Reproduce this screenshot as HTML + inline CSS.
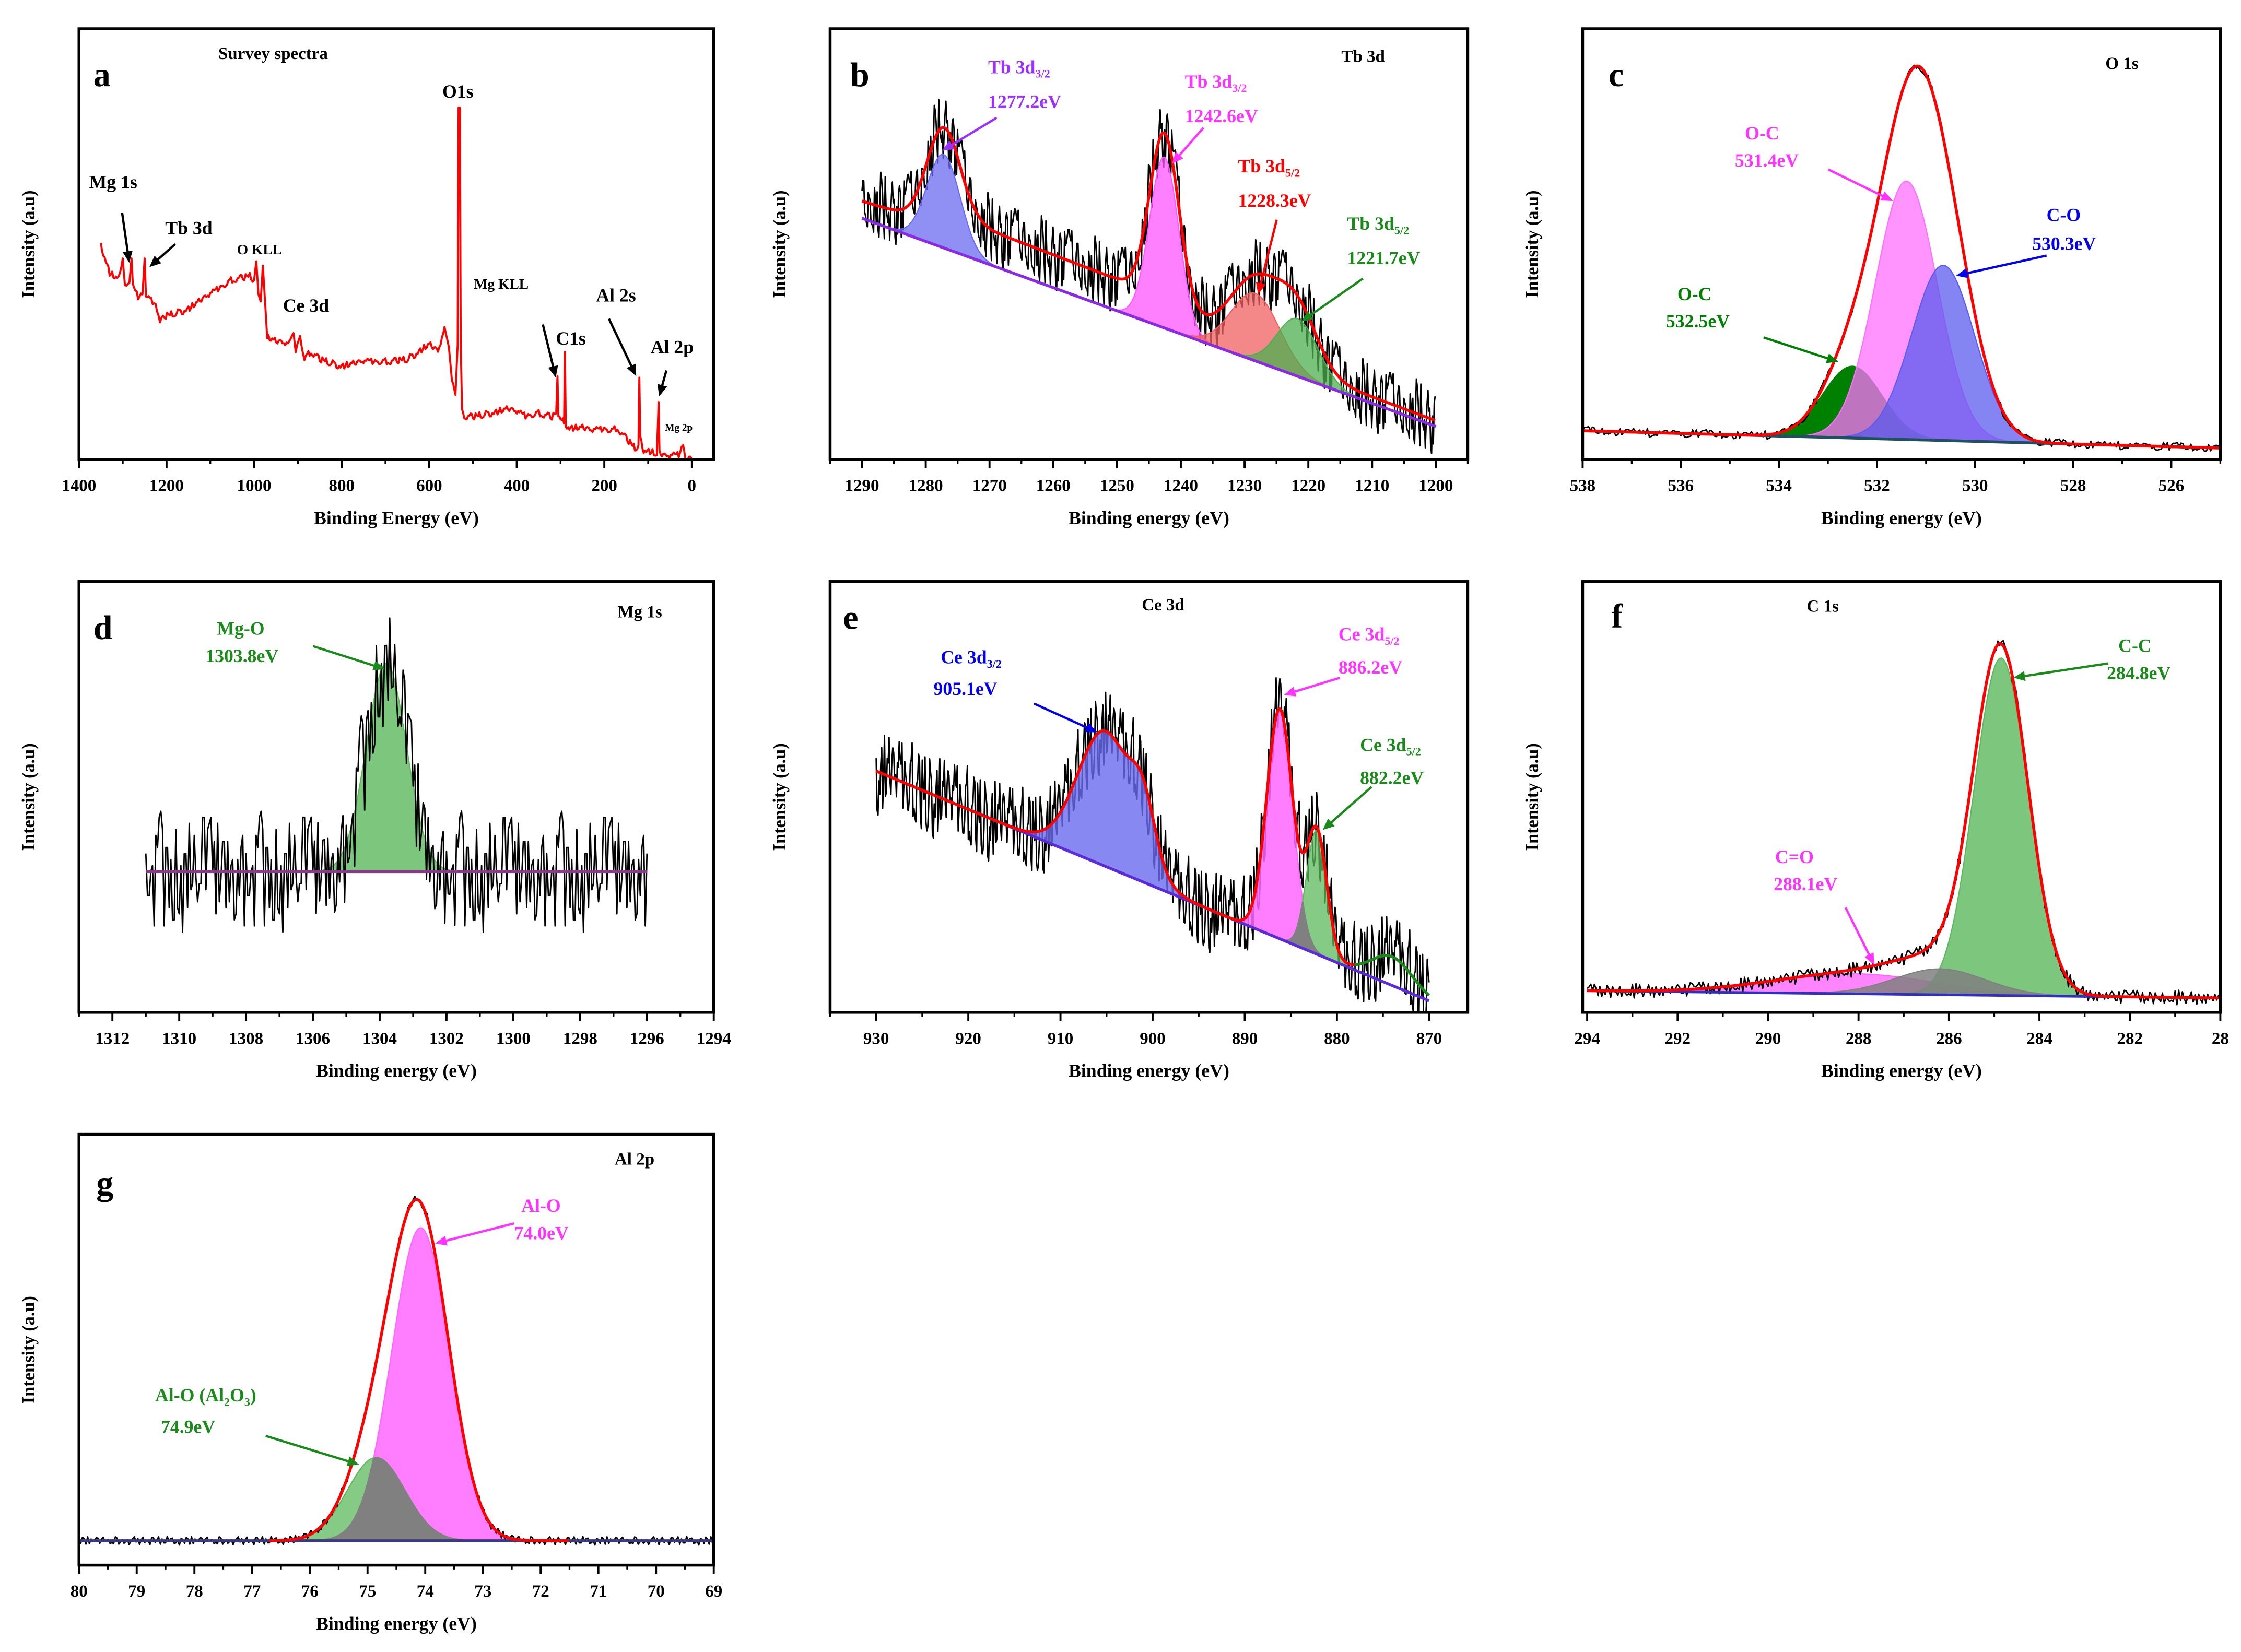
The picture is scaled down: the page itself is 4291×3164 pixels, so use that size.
<!DOCTYPE html>
<html><head><meta charset="utf-8">
<style>
html,body{margin:0;padding:0;background:#fff;}
svg{display:block;}
text{font-family:"Liberation Serif",serif;font-weight:bold;}
</style></head>
<body>
<svg id="fig" xmlns="http://www.w3.org/2000/svg" width="4291" height="3164" viewBox="0 0 1560.4 1150.5" preserveAspectRatio="none">
<rect x="0" y="0" width="1560.4" height="1150.5" fill="#fff"/>
</svg>
<script>
// ---------- shared deterministic residual pattern (typed) ----------
const noise = [0.3,-0.8,0.5,0.9,-0.2,-0.6,0.7,-0.9,0.1,0.4,-0.5,0.8,-0.3,0.6,-1.0,0.2,0.9,-0.4,-0.7,0.5,0.0,-0.2,0.8,-0.6,0.4,-0.9,0.6,0.1,-0.5,0.7,-0.1,0.3,-0.8,1.0,-0.4,0.2,-0.6,0.5,0.9,-0.3,-0.7,0.4,0.6,-0.9,0.2,-0.1,0.8,-0.5,0.3,-0.8,0.7,0.0,-0.4,0.5,-0.7,0.9,-0.2,0.1,-0.6,0.4];

// ---------- panel a: survey spectrum ----------
const aEnergy = [1350,1330,1310,1300,1295,1285,1280,1277,1265,1255,1250,1247,1235,1225,1215,1205,1180,1150,1100,1050,1010,1000,995,990,985,980,975,970,950,920,910,905,895,885,870,850,800,750,700,650,600,580,565,555,548,540,535,533,530,528,525,520,500,450,420,400,380,350,320,310,307,305,300,292,290,288,280,250,230,200,180,170,160,150,130,122,120,118,110,90,80,76,74,60,30,20,15,0];
const aCounts = [150,130,125,140,120,123,140,120,113,115,140,115,110,110,95,100,102,105,115,125,128,125,138,115,110,135,110,85,82,80,88,75,86,70,75,70,65,68,68,70,80,75,90,78,55,45,80,245,245,80,35,30,30,33,35,33,30,32,30,32,58,30,30,25,75,25,22,22,20,21,20,22,18,15,8,10,57,15,7,5,3,40,4,2,3,10,2,0];
const aTicks = [1400,1200,1000,800,600,400,200,0];

// ---------- panel b: Tb 3d ----------
const bBase = [168,23];
const bCenters = [1277.2,1242.6,1228.3,1221.7];
const bHeights = [65,119,47,40];
const bSigmas = [2.6,2.3,3.8,3.2];
const bShirleyE = [1290,1282,1272,1250,1236,1220,1200];
const bShirleyV = [12,14,24,22,12,5,4];
const bTicks = [1290,1280,1270,1260,1250,1240,1230,1220,1210,1200];

// ---------- panel c: O 1s ----------
const cBase = [20,8];
const cCenters = [532.5,531.4,530.65];
const cHeights = [50,180,122];
const cSigmas = [0.6,0.63,0.64];
const cTicks = [538,536,534,532,530,528,526];

// ---------- panel d: Mg 1s ----------
const dBase = [98,98];
const dCenters = [1303.8];
const dHeights = [145];
const dSigmas = [0.6];
const dTicks = [1312,1310,1308,1306,1304,1302,1300,1298,1296,1294];

// ---------- panel e: Ce 3d ----------
const eBase = [168,8];
const eCenters = [905.1,901.0,886.2,882.2,874.0];
const eHeights = [94,35,160,86,20];
const eSigmas = [3.0,1.3,1.4,1.1,2.2];
const eTicks = [930,920,910,900,890,880,870];

// ---------- panel f: C 1s ----------
const fBase = [15,10];
const fCenters = [288.1,286.2,284.85];
const fHeights = [14,18,235];
const fSigmas = [1.8,1.0,0.6];
const fTicks = [294,292,290,288,286,284,282];

// ---------- panel g: Al 2p ----------
const gBase = [17,17];
const gCenters = [74.85,74.08];
const gHeights = [58,218];
const gSigmas = [0.5,0.5];
const gTicks = [80,79,78,77,76,75,74,73,72,71,70,69];

const NS='http://www.w3.org/2000/svg';
const svg=document.getElementById('fig');
function mk(tag,attrs,parent){const e=document.createElementNS(NS,tag);for(const k in attrs)e.setAttribute(k,attrs[k]);(parent||svg).appendChild(e);return e;}
function txt(x,y,s,size,fill,parent,anchor){const t=mk('text',{x:x,y:y,'font-size':size,fill:fill||'#000','text-anchor':anchor||'start'},parent);t.textContent=s;return t;}
function gauss(x,c,h,s){return h*Math.exp(-(x-c)*(x-c)/(2*s*s));}
function interp(xs,ys,x){for(let i=0;i<xs.length-1;i++){const a=xs[i],b=xs[i+1];if((x<=a&&x>=b)||(x>=a&&x<=b)){const t=(x-a)/(b-a);return ys[i]+t*(ys[i+1]-ys[i]);}}return x>xs[0]===(xs[0]>xs[xs.length-1])?ys[0]:ys[ys.length-1];}

function makePanel(name,fr,dom,ticks,minorStep,xTitle){
  const g=mk('g',{});
  
  
  const P={g:g,fr:fr,dom:dom,
    sx:e=>fr[0]+(dom[0]-e)/(dom[0]-dom[1])*(fr[1]-fr[0]),
    sy:v=>fr[3]-v*(fr[3]-fr[2])/300};
  const clipId=name+'-clip';
  const cp=mk('clipPath',{id:clipId},g);mk('rect',{x:fr[0],y:fr[2],width:fr[1]-fr[0],height:fr[3]-fr[2]},cp);
  P.plot=mk('g',{'clip-path':'url(#'+clipId+')'},g);
  
  
  const ax=mk('g',{},g);
  
  
  for(let v=ticks[0];v>=dom[1]-1e-6;v-=minorStep){const x=P.sx(v);if(x<fr[0]-0.1||x>fr[1]+0.1)continue;mk('line',{x1:x,x2:x,y1:fr[3],y2:fr[3]+3,stroke:'#000','stroke-width':1.2},ax);}
  for(let v=ticks[0]+minorStep;v<=dom[0];v+=minorStep){const x=P.sx(v);if(x<fr[0]-0.1)continue;mk('line',{x1:x,x2:x,y1:fr[3],y2:fr[3]+3,stroke:'#000','stroke-width':1.2},ax);}
  ticks.forEach(v=>{const x=P.sx(v);mk('line',{x1:x,x2:x,y1:fr[3],y2:fr[3]+6,stroke:'#000','stroke-width':1.4},ax);
    const lab=(name==='panel-f'&&v===280)?'28':String(v);
    const t=txt(x,fr[3]+22,lab,12,'#000',ax,'middle');
    
    });
  const xt=txt((fr[0]+fr[1])/2,fr[3]+45,xTitle,13,'#000',g,'middle');
  
  
  const yt=txt(0,0,'Intensity (a.u)',12.5,'#000',g,'middle');
  yt.setAttribute('transform','translate('+(fr[0]-31)+','+((fr[2]+fr[3])/2)+') rotate(-90)');
  
  
  P.frameLater=()=>{const r=mk('rect',{x:fr[0],y:fr[2],width:fr[1]-fr[0],height:fr[3]-fr[2],fill:'none',stroke:'#000','stroke-width':2},g);
    
    };
  return P;
}
function pathOf(P,pts){return pts.map((p,i)=>(i?'L':'M')+P.sx(p[0]).toFixed(2)+','+P.sy(p[1]).toFixed(2)).join('');}
function baseAt(base,lo,hi,e){return base[0]+(hi-e)/(hi-lo)*(base[1]-base[0]);}
function sample(lo,hi,step){const a=[];for(let e=hi;e>=lo-1e-9;e-=step)a.push(e);return a;}
function fillComp(P,es,base,lo,hi,fn,color,op,nm){
  const top=es.map(e=>[e,baseAt(base,lo,hi,e)+fn(e)]);
  const bot=es.slice().reverse().map(e=>[e,baseAt(base,lo,hi,e)]);
  const p=mk('path',{d:pathOf(P,top.concat(bot))+'Z',fill:color,'fill-opacity':op,stroke:color,'stroke-width':0.8},P.plot);
  
  
  return p;
}
function line(P,pts,color,w,nm){const p=mk('path',{d:pathOf(P,pts),fill:'none',stroke:color,'stroke-width':w,'stroke-linejoin':'round'},P.plot);
  
  return p;}
function arrow(x1,y1,x2,y2,color,nm){
  const g=mk('g',{});
  
  
  const dx=x2-x1,dy=y2-y1,L=Math.hypot(dx,dy),ux=dx/L,uy=dy/L,hl=8,hw=3.5;
  mk('line',{x1:x1,y1:y1,x2:x2-ux*hl*0.8,y2:y2-uy*hl*0.8,stroke:color,'stroke-width':1.6},g);
  const bx=x2-ux*hl,by=y2-uy*hl;
  mk('polygon',{points:x2+','+y2+' '+(bx-uy*hw)+','+(by+ux*hw)+' '+(bx+uy*hw)+','+(by-ux*hw),fill:color},g);
}
function label(x,y,main,sub,color,size,nm){
  const t=mk('text',{x:x,y:y,'font-size':size,fill:color});
  
  
  t.appendChild(document.createTextNode(main));
  if(sub){const s=mk('tspan',{'font-size':size*0.62,dy:3},t);s.textContent=sub;}
  return t;
}
function expTrace(P,es,env,amp,k,nm){
  const pts=es.map((e,i)=>[e,env(e)+amp*noise[(i*k)%noise.length]]);
  return line(P,pts,'#000',1,nm);
}

// ===== Panel a =====
(function(){
  const P=makePanel('panel-a',[55,497,20,320],[1400,-50],aTicks,100,'Binding Energy (eV)');
  const pts=aEnergy.map((e,i)=>[e,aCounts[i]]);
  const dense=[];for(let i=0;i<pts.length-1;i++){const [e1,v1]=pts[i],[e2,v2]=pts[i+1];const n=Math.max(1,Math.round((e1-e2)/3));for(let j=0;j<n;j++){const t=j/n;dense.push([e1+(e2-e1)*t,v1+(v2-v1)*t+(n>2?2.5*noise[(dense.length*7)%noise.length]:0)]);}}
  dense.push(pts[pts.length-1]);
  line(P,dense,'#f00',1.4,'survey-spectrum');
  P.frameLater();
  txt(65,60,'a',24,'#000');
  txt(152,41,'Survey spectra',12,'#000');
  txt(308,68,'O1s',13,'#000');
  txt(62,131,'Mg 1s',13,'#000');arrow(85,148,90,183,'#000','arrow-mg1s');
  txt(115,163,'Tb 3d',13,'#000');arrow(122,170,104,186,'#000','arrow-tb3d');
  txt(165,177,'O KLL',10,'#000');
  txt(197,217,'Ce 3d',13,'#000');
  txt(330,201,'Mg KLL',10,'#000');arrow(378,226,387,263,'#000','arrow-mgkll');
  txt(387,240,'C1s',13,'#000');
  txt(415,210,'Al 2s',13,'#000');arrow(424,222,443,262,'#000','arrow-al2s');
  txt(453,246,'Al 2p',13,'#000');arrow(464,258,459,276,'#000','arrow-al2p');
  txt(463,300,'Mg 2p',7,'#000');
})();

// ===== Panel b =====
(function(){
  const lo=1200,hi=1290;
  const P=makePanel('panel-b',[578,1022,20,320],[1295,1195],bTicks,5,'Binding energy (eV)');
  const es=sample(lo,hi,0.14);
  const shir=e=>interp(bShirleyE,bShirleyV,e);
  const cols=['#6a6af0','#ff55ff','#f06060','#4caf50'];
  const names=['tb3d-1277-peak','tb3d-1242-peak','tb3d-1228-peak','tb3d-1221-peak'];
  const comp=i=>e=>gauss(e,bCenters[i],bHeights[i],bSigmas[i]);
  const env=e=>baseAt(bBase,lo,hi,e)+shir(e)+bCenters.reduce((s,c,i)=>s+gauss(e,c,bHeights[i],bSigmas[i]),0);
  expTrace(P,es,env,24,13,'tb3d-experimental');
  bCenters.forEach((c,i)=>fillComp(P,es,bBase,lo,hi,comp(i),cols[i],0.75,names[i]));
  line(P,[[hi,bBase[0]],[lo,bBase[1]]],'#8a2be2',2,'tb3d-baseline');
  line(P,es.map(e=>[e,env(e)]),'#f00',2,'tb3d-envelope');
  P.frameLater();
  txt(592,60,'b',24,'#000');
  txt(934,43,'Tb 3d',12,'#000');
  label(688,51,'Tb 3d','3/2','#9b30ff',13,'label-1277');txt(688,75,'1277.2eV',13,'#9b30ff');
  arrow(694,82,656,105,'#9b30ff','arrow-1277');
  label(825,61,'Tb 3d','3/2','#ff33ff',13,'label-1242');txt(825,85,'1242.6eV',13,'#ff33ff');
  arrow(838,89,816,114,'#ff33ff','arrow-1242');
  label(862,120,'Tb 3d','5/2','#f00',13,'label-1228');txt(862,144,'1228.3eV',13,'#f00');
  arrow(889,153,876,205,'#f00','arrow-1228');
  label(938,160,'Tb 3d','5/2','#1a8a1a',13,'label-1221');txt(938,184,'1221.7eV',13,'#1a8a1a');
  arrow(949,194,906,224,'#1a8a1a','arrow-1221');
})();

// ===== Panel c =====
(function(){
  const lo=525,hi=538;
  const P=makePanel('panel-c',[1102,1546,20,320],[538,525],cTicks,1,'Binding energy (eV)');
  const es=sample(lo,hi,0.04);
  const env=e=>baseAt(cBase,lo,hi,e)+cCenters.reduce((s,c,i)=>s+gauss(e,c,cHeights[i],cSigmas[i]),0);
  const cols=['#008000','#ff70ff','#5b5bee'];
  const names=['o1s-532-peak','o1s-531-peak','o1s-530-peak'];
  cCenters.forEach((c,i)=>fillComp(P,es,cBase,lo,hi,e=>gauss(e,c,cHeights[i],cSigmas[i]),cols[i],i===0?1:0.75,names[i]));
  expTrace(P,es,env,3,11,'o1s-experimental');
  line(P,[[hi,cBase[0]],[lo,cBase[1]]],'#1f5060',2,'o1s-baseline');
  line(P,es.map(e=>[e,env(e)]),'#f00',2,'o1s-envelope');
  P.frameLater();
  txt(1120,60,'c',24,'#000');
  txt(1466,48,'O 1s',12,'#000');
  txt(1215,97,'O-C',13,'#ff33ff');txt(1208,116,'531.4eV',13,'#ff33ff');arrow(1273,118,1318,140,'#ff33ff','arrow-531');
  txt(1425,154,'C-O',13,'#0000ee');txt(1415,174,'530.3eV',13,'#0000ee');arrow(1425,178,1362,192,'#0000ee','arrow-530');
  txt(1168,209,'O-C',13,'#008000');txt(1160,228,'532.5eV',13,'#008000');arrow(1228,235,1280,252,'#008000','arrow-532');
})();

// ===== Panel d =====
(function(){
  const lo=1296,hi=1311;
  const P=makePanel('panel-d',[55,497,405,705],[1313,1294],dTicks,1,'Binding energy (eV)');
  const es=sample(lo,hi,0.05);
  const env=e=>baseAt(dBase,lo,hi,e)+gauss(e,dCenters[0],dHeights[0],dSigmas[0]);
  fillComp(P,es,dBase,lo,hi,e=>gauss(e,dCenters[0],dHeights[0],dSigmas[0]),'#5cb85c',0.8,'mg1s-peak');
  expTrace(P,es,env,42,17,'mg1s-experimental');
  line(P,[[hi,dBase[0]],[lo,dBase[1]]],'#8b3a8b',2,'mg1s-baseline');
  P.frameLater();
  txt(65,445,'d',24,'#000');
  txt(430,430,'Mg 1s',12,'#000');
  txt(151,442,'Mg-O',13,'#1a8a1a');txt(143,461,'1303.8eV',13,'#1a8a1a');arrow(218,450,268,466,'#1a8a1a','arrow-mgo');
})();

// ===== Panel e =====
(function(){
  const lo=870,hi=930;
  const P=makePanel('panel-e',[578,1022,405,705],[935,865.8],eTicks,5,'Binding energy (eV)');
  const es=sample(lo,hi,0.1);
  const g=(i,e)=>gauss(e,eCenters[i],eHeights[i],eSigmas[i]);
  const env=e=>baseAt(eBase,lo,hi,e)+g(0,e)+g(1,e)+g(2,e)+g(3,e)+g(4,e);
  expTrace(P,es,env,30,7,'ce3d-experimental');
  fillComp(P,es,eBase,lo,hi,e=>g(0,e)+g(1,e),'#6a6af0',0.8,'ce3d-905-peak');
  fillComp(P,es,eBase,lo,hi,e=>g(2,e),'#ff66ff',0.85,'ce3d-886-peak');
  fillComp(P,es,eBase,lo,hi,e=>g(3,e),'#5cb85c',0.75,'ce3d-882-peak');
  fillComp(P,es,eBase,lo,hi,e=>Math.min(g(2,e),g(3,e)),'#808080',1,'ce3d-overlap');
  line(P,es.filter(e=>e<879).map(e=>[e,baseAt(eBase,lo,hi,e)+g(4,e)+g(3,e)]),'#1a8a1a',2,'ce3d-satellite');
  line(P,[[hi,eBase[0]],[lo,eBase[1]]],'#5b2bd8',2,'ce3d-baseline');
  line(P,es.filter(e=>e>878).map(e=>[e,env(e)]),'#f00',2,'ce3d-envelope');
  P.frameLater();
  txt(587,438,'e',24,'#000');
  txt(795,425,'Ce 3d',12,'#000');
  label(655,462,'Ce 3d','3/2','#0000ee',13,'label-905');txt(650,484,'905.1eV',13,'#0000ee');arrow(720,490,764,510,'#0000ee','arrow-905');
  label(932,446,'Ce 3d','5/2','#ff33ff',13,'label-886');txt(932,469,'886.2eV',13,'#ff33ff');arrow(933,472,894,484,'#ff33ff','arrow-886');
  label(947,523,'Ce 3d','5/2','#1a8a1a',13,'label-882');txt(947,546,'882.2eV',13,'#1a8a1a');arrow(955,548,921,578,'#1a8a1a','arrow-882');
})();

// ===== Panel f =====
(function(){
  const lo=280,hi=294;
  const P=makePanel('panel-f',[1102,1546,405,705],[294.1,280],fTicks.concat([280]),1,'Binding energy (eV)');
  const es=sample(lo,hi,0.04);
  const g=(i,e)=>gauss(e,fCenters[i],fHeights[i],fSigmas[i]);
  const env=e=>baseAt(fBase,lo,hi,e)+g(0,e)+g(1,e)+g(2,e);
  fillComp(P,es,fBase,lo,hi,e=>g(0,e),'#ff66ff',0.8,'c1s-288-peak');
  fillComp(P,es,fBase,lo,hi,e=>g(2,e),'#5cb85c',0.8,'c1s-284-peak');
  fillComp(P,es,fBase,lo,hi,e=>g(1,e),'#808080',0.85,'c1s-286-peak');
  expTrace(P,es,env,5,19,'c1s-experimental');
  line(P,[[hi,fBase[0]],[lo,fBase[1]]],'#3030c0',1.8,'c1s-baseline');
  line(P,es.map(e=>[e,env(e)]),'#f00',2,'c1s-envelope');
  P.frameLater();
  txt(1122,437,'f',24,'#000');
  txt(1258,426,'C 1s',12,'#000');
  txt(1475,454,'C-C',13,'#1a8a1a');txt(1467,473,'284.8eV',13,'#1a8a1a');arrow(1468,462,1402,472,'#1a8a1a','arrow-284');
  txt(1236,601,'C=O',13,'#ff33ff');txt(1235,620,'288.1eV',13,'#ff33ff');arrow(1285,632,1305,672,'#ff33ff','arrow-288');
})();

// ===== Panel g =====
(function(){
  const lo=69,hi=80;
  const P=makePanel('panel-g',[55,497,790,1090],[80,69],gTicks,0.5,'Binding energy (eV)');
  const es=sample(lo,hi,0.03);
  const g=(i,e)=>gauss(e,gCenters[i],gHeights[i],gSigmas[i]);
  const env=e=>baseAt(gBase,lo,hi,e)+g(0,e)+g(1,e);
  fillComp(P,es,gBase,lo,hi,e=>g(1,e),'#ff66ff',0.85,'al2p-74.0-peak');
  fillComp(P,es,gBase,lo,hi,e=>g(0,e),'#5cb85c',0.75,'al2p-74.9-peak');
  fillComp(P,es,gBase,lo,hi,e=>Math.min(g(0,e),g(1,e)),'#808080',1,'al2p-overlap');
  expTrace(P,es,env,3,23,'al2p-experimental');
  line(P,[[hi,gBase[0]],[lo,gBase[1]]],'#3a3a80',2,'al2p-baseline');
  line(P,es.filter(e=>e<76.7&&e>71.5).map(e=>[e,env(e)]),'#f00',2,'al2p-envelope');
  P.frameLater();
  txt(67,832,'g',24,'#000');
  txt(428,811,'Al 2p',12,'#000');
  txt(363,844,'Al-O',13,'#ff33ff');txt(358,863,'74.0eV',13,'#ff33ff');arrow(358,852,303,866,'#ff33ff','arrow-740');
  const t=mk('text',{x:108,y:976,'font-size':13,fill:'#1a8a1a'});t.textContent='Al-O (Al';
  
  
  const s1=mk('tspan',{'font-size':8,dy:3},t);s1.textContent='2';
  const s2=mk('tspan',{dy:-3},t);s2.textContent='O';
  const s3=mk('tspan',{'font-size':8,dy:3},t);s3.textContent='3';
  const s4=mk('tspan',{dy:-3},t);s4.textContent=')';
  txt(112,998,'74.9eV',13,'#1a8a1a');arrow(185,1000,250,1020,'#1a8a1a','arrow-749');
})();
</script>
</body></html>
